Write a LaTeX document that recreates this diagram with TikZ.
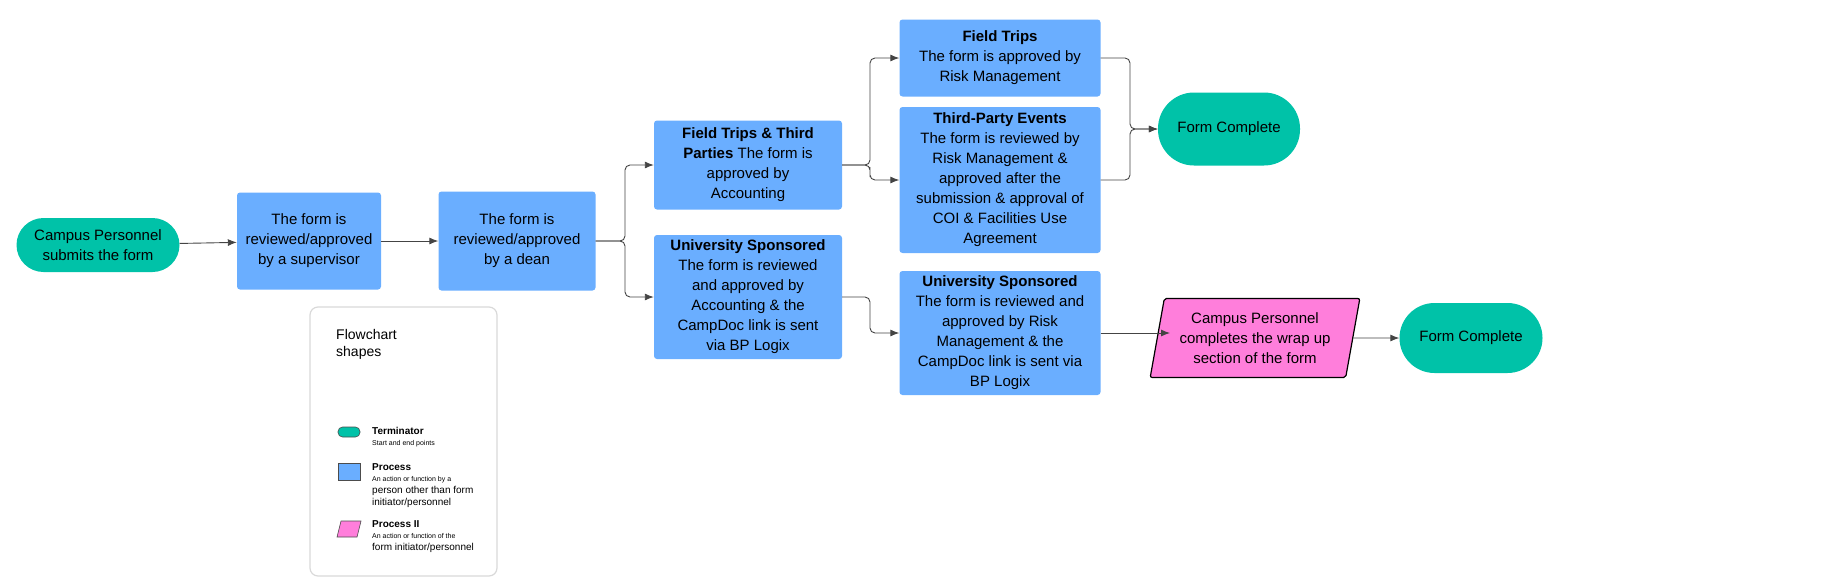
\documentclass[tikz,border=0pt]{standalone}
\usepackage{fontspec}
\setmainfont{Liberation Sans}
\usetikzlibrary{shapes.geometric,arrows.meta}
\definecolor{teal}{HTML}{00C2A8}
\definecolor{pblue}{HTML}{6AAEFF}
\definecolor{pink}{HTML}{FF7EDB}
\definecolor{arr}{HTML}{444444}
\begin{document}
\begin{tikzpicture}[x=1pt,y=-1pt,
  txt/.style={align=center,font=\fontsize{15}{20}\selectfont,inner sep=0pt},
  term/.style={txt,fill=teal,rounded corners=27pt},
  proc/.style={txt,fill=pblue,rounded corners=3pt},
  con/.style={draw=arr,line width=0.9pt,-{Latex[length=9pt,width=7pt]},rounded corners=5pt}]
\useasboundingbox (0,0) rectangle (1835,581);
\node[term,minimum width=163pt,minimum height=54pt] (start) at (98,245) {Campus Personnel\\submits the form};
\node[proc,minimum width=144pt,minimum height=97pt] (sup) at (309,241) {The form is\\reviewed/approved\\by a supervisor};
\node[proc,minimum width=157pt,minimum height=99pt] (dean) at (517,241) {The form is\\reviewed/approved\\by a dean};
\node[proc,minimum width=188pt,minimum height=89pt] (fttp) at (748,165) {\textbf{Field Trips \& Third}\\\textbf{Parties} The form is\\approved by\\Accounting};
\node[proc,minimum width=188pt,minimum height=124pt] (us1) at (748,297) {\textbf{University Sponsored}\\The form is reviewed\\and approved by\\Accounting \& the\\CampDoc link is sent\\via BP Logix};
\node[proc,minimum width=201pt,minimum height=77pt] (ft) at (1000,58) {\textbf{Field Trips}\\The form is approved by\\Risk Management};
\node[proc,minimum width=201pt,minimum height=146pt] (tp) at (1000,180) {\textbf{Third-Party Events}\\The form is reviewed by\\Risk Management \&\\approved after the\\submission \& approval of\\COI \& Facilities Use\\Agreement};
\node[term,minimum width=142pt,minimum height=73pt,rounded corners=36pt] (fc1) at (1229,129) {Form Complete};
\node[proc,minimum width=201pt,minimum height=124pt] (us2) at (1000,333) {\textbf{University Sponsored}\\The form is reviewed and\\approved by Risk\\Management \& the\\CampDoc link is sent via\\BP Logix};
\node[txt,trapezium,trapezium stretches=true,trapezium left angle=77,trapezium right angle=103,draw=black,line width=1.2pt,fill=pink,minimum width=210pt,minimum height=79pt,rounded corners=2pt] (pk) at (1255,338) {Campus Personnel\\completes the wrap up\\section of the form};
\node[term,minimum width=143pt,minimum height=70pt,rounded corners=35pt] (fc2) at (1471,338) {Form Complete};
\draw[con] (start) -- (sup);
\draw[con] (sup) -- (dean);
\draw[con] (dean.east) -| (625,203) |- (fttp.west);
\draw[con] (dean.east) -| (625,270) |- (us1.west);
\draw[con] (fttp.east) -| (870,110) |- (ft.west);
\draw[con] (fttp.east) -| (870,172) |- (tp.west);
\draw[con] (ft.east) -| (1130,100) |- (fc1.west);
\draw[con] (tp.east) -| (1130,150) |- (fc1.west);
\draw[con] (us1.east) -| (870,320) |- (us2.west);
\draw[con] (us2.east) -- (1170,333);
\draw[con] (pk.east) -- (fc2.west);
% legend
\node[draw=black!15,line width=1.2pt,rounded corners=8pt,minimum width=187pt,minimum height=269pt,inner sep=0pt] (leg) at (403.5,441.5) {};
\node[anchor=north west,align=left,font=\fontsize{14}{17}\selectfont,inner sep=0pt] (lt) at (336,329) {Flowchart\\shapes};
\node[fill=teal,draw=black!70,line width=0.6pt,rounded corners=4.5pt,minimum width=22pt,minimum height=10pt,inner sep=0pt] (l1) at (349,432) {};
\node[fill=pblue,draw=black!70,line width=0.6pt,minimum width=22pt,minimum height=17pt,inner sep=0pt] (l2) at (349,472) {};
\draw[fill=pink,draw=black!70,line width=0.6pt] (341,521) -- (361,521) -- (357,537) -- (337,537) -- cycle;
\node[anchor=north west,align=left,inner sep=0pt] (d1) at (372,427) {\fontsize{10}{12}\selectfont\textbf{Terminator}\\[-1pt]\fontsize{7}{9}\selectfont Start and end points};
\node[anchor=north west,align=left,inner sep=0pt] (d2) at (372,463) {\fontsize{10}{12}\selectfont\textbf{Process}\\[-1pt]\fontsize{7}{9.5}\selectfont An action or function by a\\person other than form\\initiator/personnel};
\node[anchor=north west,align=left,inner sep=0pt] (d3) at (372,520) {\fontsize{10}{12}\selectfont\textbf{Process II}\\[-1pt]\fontsize{7}{9.5}\selectfont An action or function of the\\form initiator/personnel};
\end{tikzpicture}
\end{document}
